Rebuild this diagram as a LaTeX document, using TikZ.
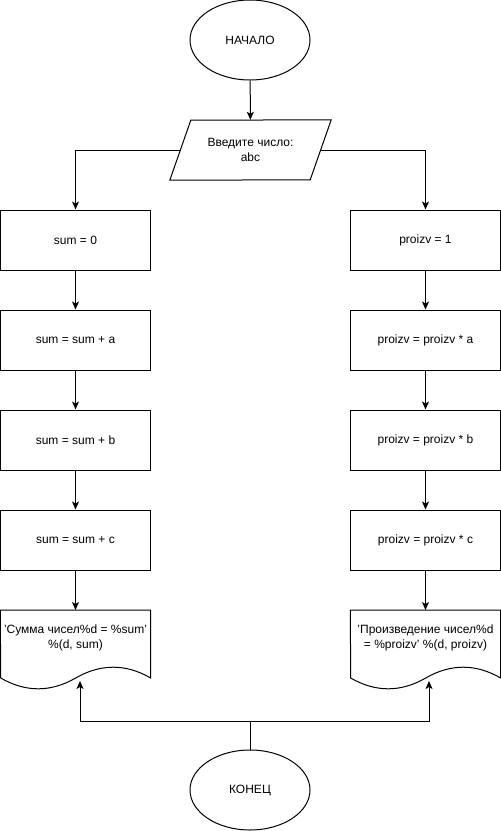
\documentclass[tikz,border=0pt]{standalone}
\usepackage{fontspec}
\setmainfont{Liberation Sans}
\usetikzlibrary{arrows.meta,shapes.geometric,positioning}

\tikzset{
  every node/.style={font=\fontsize{12}{14.5}\selectfont},
  term/.style={ellipse,draw,line width=1pt,minimum width=120pt,minimum height=80pt,inner sep=0pt},
  proc/.style={rectangle,draw,line width=1pt,minimum width=150pt,minimum height=60pt,inner sep=0pt},
  iotext/.style={rectangle,minimum width=161pt,minimum height=60pt,inner sep=0pt,align=center},
  doctext/.style={minimum width=150pt,minimum height=55pt,inner sep=0pt,align=center,anchor=north},
  docline/.style={line width=1pt},
  flow/.style={line width=1pt,-{Stealth[length=8pt,width=7pt,inset=2pt]}},
  wire/.style={line width=1pt}
}

\begin{document}
\begin{tikzpicture}[x=1pt,y=-1pt]
   \useasboundingbox (0,0) rectangle (501,831);

   \node[term] (start) at (250,40) {НАЧАЛО};
   \node[iotext] (inp) at (250.5,150) {Введите число:\\abc};
   %input parallelogram
   \draw[docline] (inp.south west) -- ++(21,-60) -- (inp.north east) -- ++(-21,60) -- cycle;

   %sum column
   \node[proc] (s0) at (75.5,240) {sum = 0};
   \node[proc] (s1) at (75.5,340) {sum = sum + a};
   \node[proc] (s2) at (75.5,440) {sum = sum + b};
   \node[proc] (s3) at (75.5,540) {sum = sum + c};
   \node[doctext] (out1) at (75.5,610) {'Сумма чисел\%d = \%sum'\\\%(d, sum)};

   %proizv column
   \node[proc] (p0) at (425.5,240) {proizv = 1};
   \node[proc] (p1) at (425.5,340) {proizv = proizv * a};
   \node[proc] (p2) at (425.5,440) {proizv = proizv * b};
   \node[proc] (p3) at (425.5,540) {proizv = proizv * c};
   \node[doctext] (out2) at (425.5,610) {'Произведение чисел\%d\\= \%proizv' \%(d, proizv)};

   \node[term] (fin) at (250,790) {КОНЕЦ};

   %document outlines
   \draw[docline] (out1.north west) -- (out1.north east) -- ++(0,68)
      .. controls +(-25,-14.4) and +(25,-14.4) .. ++(-75,0)
      .. controls +(-25,14.4) and +(25,14.4) .. ++(-75,0) -- cycle;
   \draw[docline] (out2.north west) -- (out2.north east) -- ++(0,68)
      .. controls +(-25,-14.4) and +(25,-14.4) .. ++(-75,0)
      .. controls +(-25,14.4) and +(25,14.4) .. ++(-75,0) -- cycle;

   \coordinate (j) at (250,721);
   \coordinate (w1) at (80,681);
   \coordinate (w2) at (429,681);

   \draw[flow] (start) -- (inp);
   \draw[flow] ([xshift=10.5pt]inp.west) -| (s0);
   \draw[flow] ([xshift=-10.5pt]inp.east) -| (p0);

   \path[flow]
    (s0) edge (s1)
    (s1) edge (s2)
    (s2) edge (s3)
    (s3) edge (out1)
    (p0) edge (p1)
    (p1) edge (p2)
    (p2) edge (p3)
    (p3) edge (out2);

   %end
   \draw[wire] (fin) -- (j);
   \draw[flow] (j) -| (w1);
   \draw[flow] (j) -| (w2);
\end{tikzpicture}
\end{document}
